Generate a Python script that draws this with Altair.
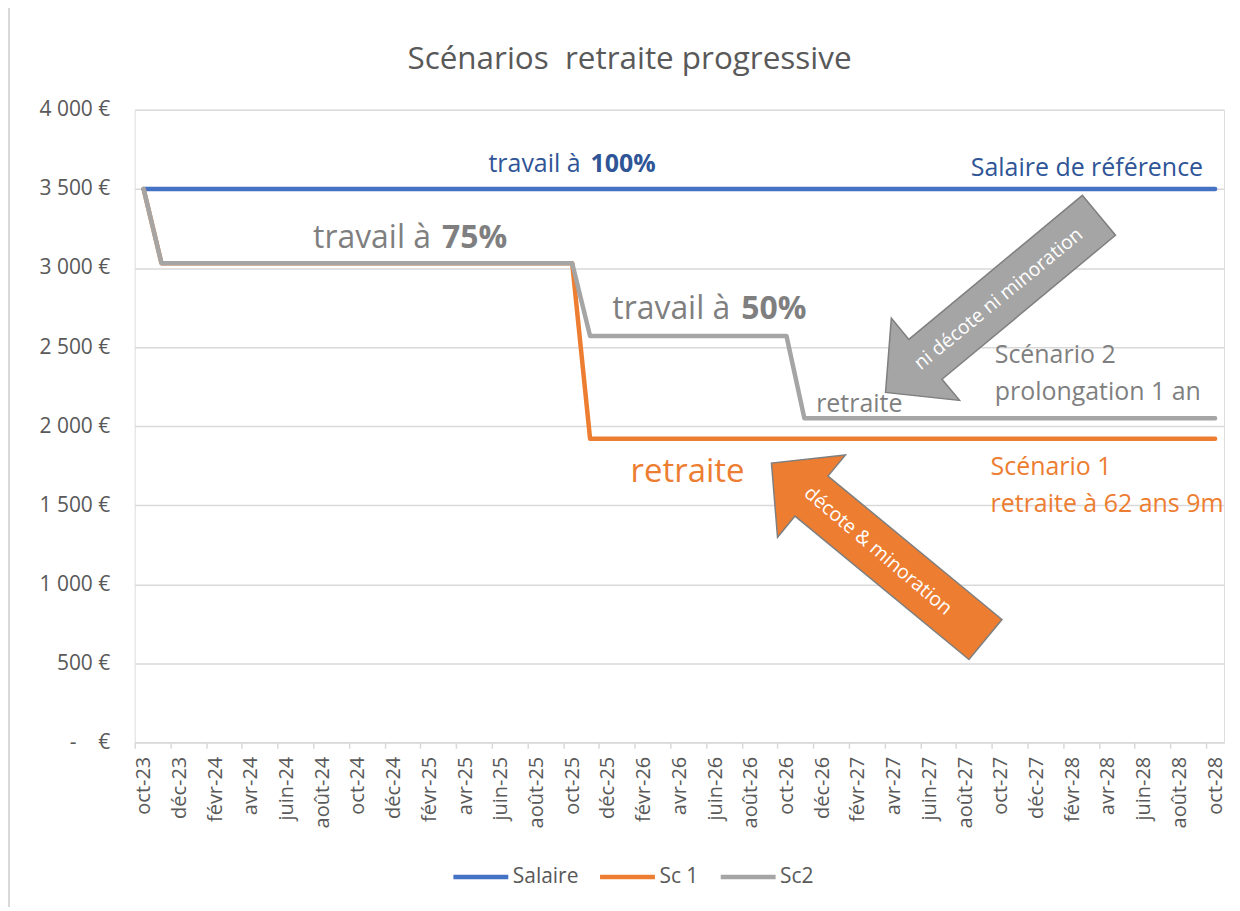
import altair as alt
import pandas as pd

# ---------------- data ----------------
mois = [
    "oct-23", "nov-23", "déc-23",
    "janv-24", "févr-24", "mars-24", "avr-24", "mai-24", "juin-24",
    "juil-24", "août-24", "sept-24", "oct-24", "nov-24", "déc-24",
    "janv-25", "févr-25", "mars-25", "avr-25", "mai-25", "juin-25",
    "juil-25", "août-25", "sept-25", "oct-25", "nov-25", "déc-25",
    "janv-26", "févr-26", "mars-26", "avr-26", "mai-26", "juin-26",
    "juil-26", "août-26", "sept-26", "oct-26", "nov-26", "déc-26",
    "janv-27", "févr-27", "mars-27", "avr-27", "mai-27", "juin-27",
    "juil-27", "août-27", "sept-27", "oct-27", "nov-27", "déc-27",
    "janv-28", "févr-28", "mars-28", "avr-28", "mai-28", "juin-28",
    "juil-28", "août-28", "sept-28", "oct-28",
]

series = ["Salaire", "Sc 1", "Sc2"]

salaire = [
    3500, 3500, 3500,
    3500, 3500, 3500, 3500, 3500, 3500, 3500, 3500, 3500, 3500, 3500, 3500,
    3500, 3500, 3500, 3500, 3500, 3500, 3500, 3500, 3500, 3500, 3500, 3500,
    3500, 3500, 3500, 3500, 3500, 3500, 3500, 3500, 3500, 3500, 3500, 3500,
    3500, 3500, 3500, 3500, 3500, 3500, 3500, 3500, 3500, 3500, 3500, 3500,
    3500, 3500, 3500, 3500, 3500, 3500, 3500, 3500, 3500, 3500,
]
sc1 = [
    3500, 3030, 3030,
    3030, 3030, 3030, 3030, 3030, 3030, 3030, 3030, 3030, 3030, 3030, 3030,
    3030, 3030, 3030, 3030, 3030, 3030, 3030, 3030, 3030, 3030, 1920, 1920,
    1920, 1920, 1920, 1920, 1920, 1920, 1920, 1920, 1920, 1920, 1920, 1920,
    1920, 1920, 1920, 1920, 1920, 1920, 1920, 1920, 1920, 1920, 1920, 1920,
    1920, 1920, 1920, 1920, 1920, 1920, 1920, 1920, 1920, 1920,
]
sc2 = [
    3500, 3030, 3030,
    3030, 3030, 3030, 3030, 3030, 3030, 3030, 3030, 3030, 3030, 3030, 3030,
    3030, 3030, 3030, 3030, 3030, 3030, 3030, 3030, 3030, 3030, 2570, 2570,
    2570, 2570, 2570, 2570, 2570, 2570, 2570, 2570, 2570, 2570, 2050, 2050,
    2050, 2050, 2050, 2050, 2050, 2050, 2050, 2050, 2050, 2050, 2050, 2050,
    2050, 2050, 2050, 2050, 2050, 2050, 2050, 2050, 2050, 2050,
]

y_ticks = [0, 500, 1000, 1500, 2000, 2500, 3000, 3500, 4000]
x_ticks = [0, 2, 4, 6, 8, 10, 12, 14, 16, 18, 20, 22, 24, 26, 28, 30,
           32, 34, 36, 38, 40, 42, 44, 46, 48, 50, 52, 54, 56, 58, 60]

titre = "Scénarios\u00a0 retraite progressive"

# annotations (data coordinates: month index, euro value)
ann_right_txt = ["travail à", "travail à", "travail à"]
ann_right_x = [24.47, 16.09, 32.85]
ann_right_y = [3610, 3125, 2680]

ann_bold_txt = ["100%", "75%", "50%"]
ann_bold_x = [25.03, 16.71, 33.47]
ann_bold_y = [3610, 3125, 2680]

ann_left_txt = ["Salaire de référence", "retraite", "Scénario 2",
                "prolongation 1 an", "retraite", "Scénario 1",
                "retraite à 62 ans 9m"]
ann_left_x = [46.32, 37.66, 47.66, 47.66, 27.27, 47.43, 47.43]
ann_left_y = [3580, 2090, 2397, 2164, 1646, 1691, 1458]

arrow_txt = ["ni décote ni minoration", "décote & minoration"]
arrow_x = [47.52, 41.15]
arrow_y = [2773, 1208]
arrow_angle = [140.3, 219.5]
arrow_txt_x = [47.88, 41.12]
arrow_txt_y = [2804, 1211]
arrow_txt_angle = [320.6, 40.3]

# ---------------- styles ----------------
FONT = "Open Sans"
W, H = 1092, 634
AX = "#595959"
GRID = "#D9D9D9"
BLUE, ORANGE, GRAYL = "#4472C4", "#ED7D31", "#A5A5A5"
BLUE_T, GRAY_T = "#2F5597", "#7F7F7F"

rows = []
for name, vals in zip(series, [salaire, sc1, sc2]):
    for i, v in enumerate(vals):
        rows.append({"x": i, "y": v, "serie": name})
df = pd.DataFrame(rows)

month_expr = "[" + ",".join("'" + m + "'" for m in mois) + "][datum.value]"
y_expr = ("datum.value == 0 ? '-\u00a0\u00a0\u00a0\u00a0€' : "
          "replace(format(datum.value, ',d'), ',', ' ') + ' €'")

half = W / 61 / 2

x_enc = alt.X(
    "x:Q",
    scale=alt.Scale(domain=[-0.5, 60.5], nice=False, zero=False),
    axis=alt.Axis(
        title=None, values=x_ticks, tickCount=len(x_ticks) + 5,
        labelExpr=month_expr,
        labelAngle=-90, labelAlign="right", labelBaseline="middle",
        tickOffset=-half, labelOffset=half, tickSize=6, tickColor=GRID,
        domainColor=GRID, domainWidth=1.5, tickWidth=1.5, labelPadding=8,
        labelFontSize=20, labelColor=AX, labelFont=FONT, grid=False,
        labelOverlap=False, labelFlush=False,
    ),
)
y_enc = alt.Y(
    "y:Q",
    scale=alt.Scale(domain=[0, 4000], nice=False, zero=True),
    axis=alt.Axis(
        title=None, values=y_ticks, tickCount=len(y_ticks) + 2,
        labelExpr=y_expr, domain=False,
        ticks=False, tickSize=0, labelPadding=25, gridColor=GRID,
        gridWidth=1.5, labelFontSize=21, labelColor=AX, labelFont=FONT,
    ),
)

lines = alt.Chart(df).mark_line(
    strokeWidth=4.5, strokeCap="round", strokeJoin="round"
).encode(
    x=x_enc, y=y_enc,
    color=alt.Color(
        "serie:N",
        scale=alt.Scale(domain=series, range=[BLUE, ORANGE, GRAYL]),
        legend=alt.Legend(
            title=None, orient="none", legendX=317, legendY=739,
            direction="horizontal", symbolType="stroke", symbolSize=3025,
            symbolStrokeWidth=4.5, labelFontSize=21, labelFont=FONT,
            labelColor=AX, labelOffset=2, columnPadding=12,
        ),
    ),
)

ARROW = ("M -1 -0.187 L 0.626 -0.187 L 0.626 -0.385 L 1 0 "
         "L 0.626 0.385 L 0.626 0.187 L -1 0.187 Z")

arr_df = pd.DataFrame({"x": arrow_x, "y": arrow_y, "a": arrow_angle,
                       "c": [GRAYL, ORANGE]})
arrows = alt.Chart(arr_df).mark_point(
    shape=ARROW, filled=True, stroke="#7F7F7F", strokeWidth=1.5,
    opacity=1, size=77284,
).encode(
    x="x:Q", y="y:Q",
    fill=alt.Fill("c:N", scale=None),
    angle=alt.Angle("a:Q", scale=None),
)

arr_txt_df = pd.DataFrame({"x": arrow_txt_x, "y": arrow_txt_y,
                           "t": arrow_txt, "a": arrow_txt_angle})
arrow_texts = alt.Chart(arr_txt_df).mark_text(
    font=FONT, fontSize=19.5, color="white", align="center", baseline="middle"
).encode(
    x="x:Q", y="y:Q", text="t:N", angle=alt.Angle("a:Q", scale=None),
)

r_df = pd.DataFrame({"x": ann_right_x, "y": ann_right_y, "t": ann_right_txt,
                     "c": [BLUE_T, GRAY_T, GRAY_T], "s": [25, 32, 32]})
t_right = alt.Chart(r_df).mark_text(
    font=FONT, align="right", baseline="alphabetic"
).encode(
    x="x:Q", y="y:Q", text="t:N",
    fill=alt.Fill("c:N", scale=None), size=alt.Size("s:Q", scale=None),
)

b_df = pd.DataFrame({"x": ann_bold_x, "y": ann_bold_y, "t": ann_bold_txt,
                     "c": [BLUE_T, GRAY_T, GRAY_T], "s": [25, 32, 32]})
t_bold = alt.Chart(b_df).mark_text(
    font=FONT, fontWeight="bold", align="left", baseline="alphabetic"
).encode(
    x="x:Q", y="y:Q", text="t:N",
    fill=alt.Fill("c:N", scale=None), size=alt.Size("s:Q", scale=None),
)

l_df = pd.DataFrame({"x": ann_left_x, "y": ann_left_y, "t": ann_left_txt,
                     "c": [BLUE_T, GRAY_T, GRAY_T, GRAY_T, ORANGE, ORANGE, ORANGE],
                     "s": [25, 25, 25, 25, 33, 25, 25]})
t_left = alt.Chart(l_df).mark_text(
    font=FONT, align="left", baseline="alphabetic"
).encode(
    x="x:Q", y="y:Q", text="t:N",
    fill=alt.Fill("c:N", scale=None), size=alt.Size("s:Q", scale=None),
)

title_mark = alt.Chart(pd.DataFrame({"t": [titre]})).mark_text(
    font=FONT, fontSize=31.5, color=AX, align="center", baseline="alphabetic"
).encode(text="t:N", x=alt.value(496), y=alt.value(-41))

border = alt.Chart(pd.DataFrame({"d": [0]})).mark_rule(
    color=GRID, strokeWidth=2
).encode(x=alt.value(-126), y=alt.value(-109), y2=alt.value(H + 165))

chart = alt.layer(
    border, lines, arrows, arrow_texts, t_right, t_bold, t_left, title_mark
).properties(
    width=W, height=H,
    padding={"left": 127, "top": 101, "right": 8, "bottom": 165},
    autosize=alt.AutoSizeParams(type="none"),
).configure_view(stroke=None).configure(background="white")

chart.save("out.html", embed_options={"renderer": "svg", "actions": False})
